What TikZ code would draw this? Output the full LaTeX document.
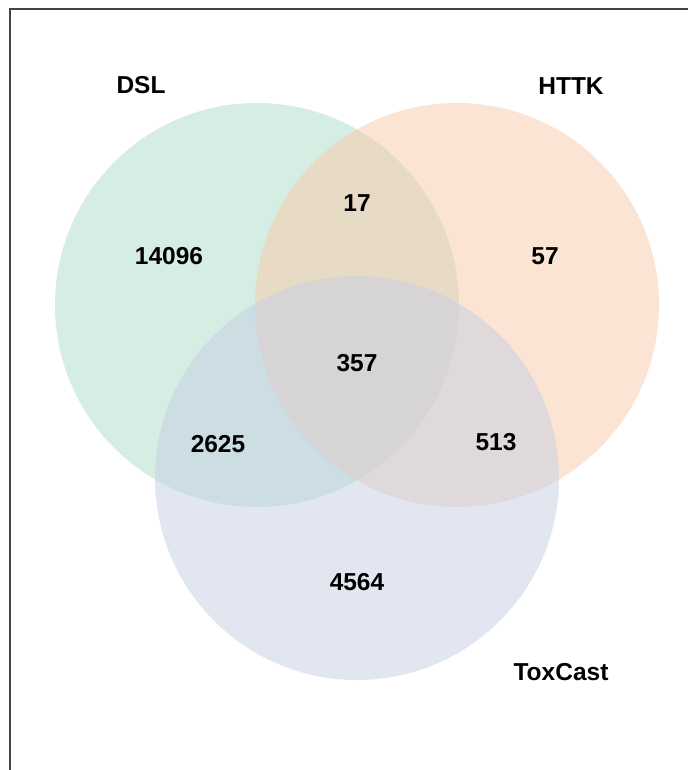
\documentclass[tikz,border=0pt]{standalone}
\usepackage{fontspec}
\setmainfont{Liberation Sans}
\definecolor{dslbase}{RGB}{173,221,201}
\definecolor{httkbase}{RGB}{251,203,171}
\definecolor{toxbase}{RGB}{197,207,227}
\definecolor{framegray}{RGB}{68,68,68}
\tikzset{
  setcircle/.style={circle, minimum size=404pt, inner sep=0pt, fill=#1, fill opacity=0.5, draw=none},
  count/.style={font=\bfseries\fontsize{24.5}{29}\selectfont, text=black, inner sep=0pt},
  setname/.style={font=\bfseries\fontsize{24.5}{29}\selectfont, text=black, inner sep=0pt}
}
\begin{document}
\begin{tikzpicture}[x=1pt, y=-1pt]
  \useasboundingbox (0,0) rectangle (688,770);
  \fill[white] (0,0) rectangle (688,770);
  % frame (left and top edges)
  \draw[framegray, line width=1.5pt] (10,770) -- (10,9) -- (688,9);
  % the three sets
  \node[setcircle=dslbase]  (dsl)  at (257,305) {};
  \node[setcircle=httkbase] (httk) at (457,305) {};
  \node[setcircle=toxbase]  (tox)  at (357,478) {};
  % set names
  \node[setname] (ldsl)  at (141,85)  {DSL};
  \node[setname] (lhttk) at (571,86)  {HTTK};
  \node[setname] (ltox)  at (561,672) {ToxCast};
  % region counts
  \node[count] (c1)   at (169,256) {14096};
  \node[count] (c2)   at (357,203) {17};
  \node[count] (c3)   at (545,256) {57};
  \node[count] (c123) at (357,363) {357};
  \node[count] (c13)  at (218,444) {2625};
  \node[count] (c23)  at (496,442) {513};
  \node[count] (c4)   at (357,582) {4564};
\end{tikzpicture}
\end{document}
